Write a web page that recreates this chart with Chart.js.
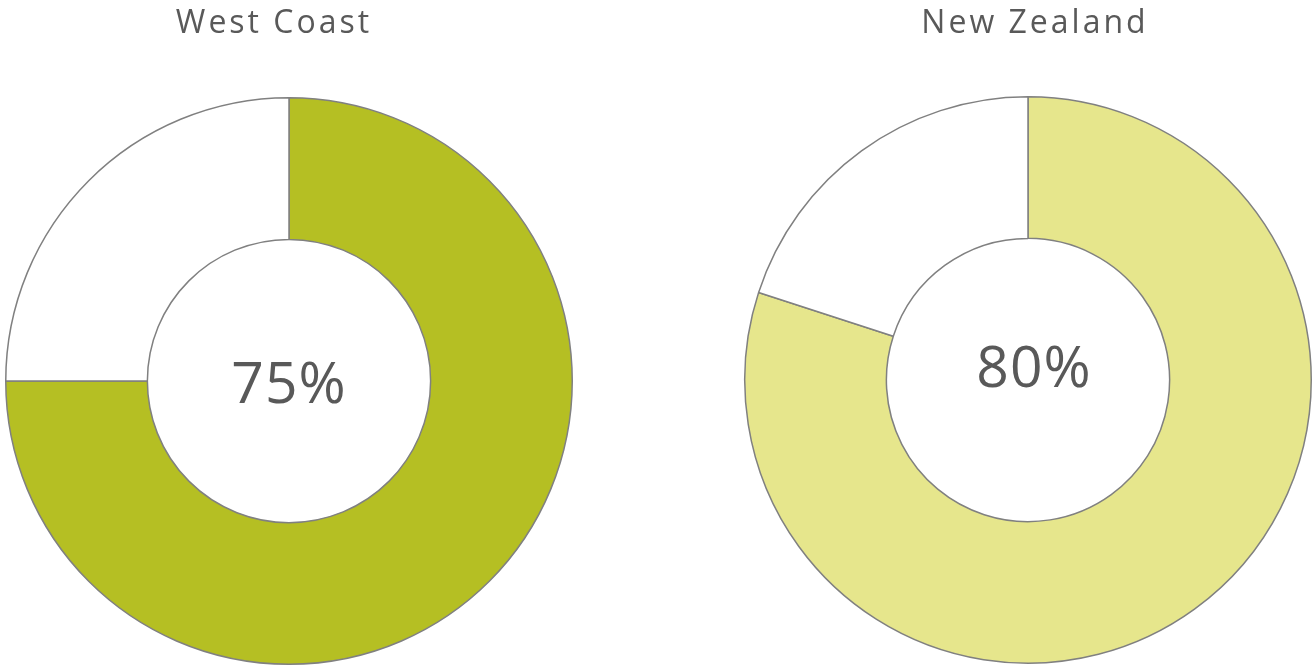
<!DOCTYPE html>
<html>
<head>
<meta charset="utf-8">
<script src="https://cdn.jsdelivr.net/npm/chart.js@4.4.1/dist/chart.umd.min.js"></script>
<style>
  html, body { margin: 0; padding: 0; background: #ffffff; }
  body { width: 1315px; height: 670px; position: relative; overflow: hidden; }
  .box { position: absolute; top: 0; height: 670px; }
  #b1 { left: 0; width: 578px; }
  #b2 { left: 740px; width: 576px; }
</style>
</head>
<body>
<div class="box" id="b1"><canvas id="c1"></canvas></div>
<div class="box" id="b2"><canvas id="c2"></canvas></div>
<script>
const titles = ['West Coast', 'New Zealand'];
const categories = ['Yes', 'Other'];
const westCoastValues = [75, 25];
const newZealandValues = [80, 20];
const centerLabels = ['75%', '80%'];
const fillColours = ['#b5bf23', '#e6e68c'];

const textColour = '#595959';

const labelPlugin = {
  id: 'labels',
  afterDraw(chart, args, opts) {
    const ctx = chart.ctx;
    const meta = chart.getDatasetMeta(0);
    const arc = meta.data[0];
    const cx = arc.x, cy = arc.y;
    ctx.save();
    ctx.fillStyle = textColour;
    ctx.textAlign = 'center';
    ctx.textBaseline = 'alphabetic';
    ctx.font = '32px "Open Sans", sans-serif';
    ctx.letterSpacing = '3px';
    ctx.fillText(opts.title, cx + opts.titleDx, 33);
    ctx.font = '57px "Open Sans", sans-serif';
    ctx.letterSpacing = '1px';
    ctx.fillText(opts.center, cx + opts.centerDx, cy + opts.centerDy);
    ctx.restore();
  }
};

function makeChart(id, values, colour, title, center, pad, titleDx, centerDx, centerDy) {
  return new Chart(document.getElementById(id), {
    type: 'doughnut',
    data: {
      labels: categories,
      datasets: [{
        data: values,
        backgroundColor: [colour, '#ffffff'],
        borderColor: '#808080',
        borderWidth: 1.5,
        borderAlign: 'center'
      }]
    },
    options: {
      responsive: true,
      maintainAspectRatio: false,
      animation: false,
      cutout: '50%',
      rotation: 0,
      layout: { padding: pad },
      plugins: {
        legend: { display: false },
        tooltip: { enabled: false },
        labels: { title: title, center: center, titleDx: titleDx, centerDx: centerDx, centerDy: centerDy }
      }
    },
    plugins: [labelPlugin]
  });
}

makeChart('c1', westCoastValues, fillColours[0], titles[0], centerLabels[0],
  { top: 97, bottom: 5, left: 5, right: 5 }, -15, 0, 22);
makeChart('c2', newZealandValues, fillColours[1], titles[1], centerLabels[1],
  { top: 96, bottom: 6, left: 4, right: 4 }, 7, 6, 7);
</script>
</body>
</html>
